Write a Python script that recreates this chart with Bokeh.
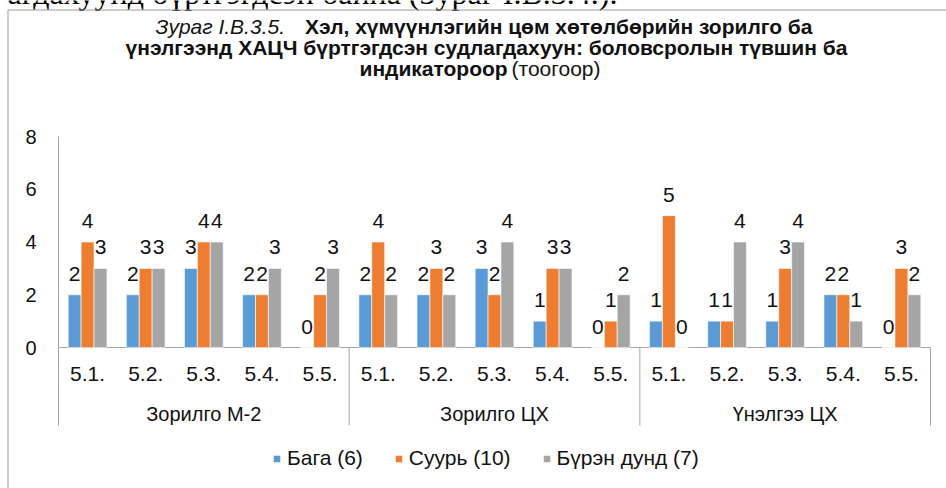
from bokeh.plotting import figure
from bokeh.models import Range1d, ColumnDataSource, Legend, LegendItem
from bokeh.embed import file_html
from bokeh.resources import INLINE
from bokeh.core.properties import value

# ---------------- data ----------------
groups = ["Зорилго М-2", "Зорилго ЦХ", "Үнэлгээ ЦХ"]
indicators = ["5.1.", "5.2.", "5.3.", "5.4.", "5.5."]
series_names = ["Бага (6)", "Суурь (10)", "Бүрэн дунд (7)"]
baga = [2, 2, 3, 2, 0, 2, 2, 3, 1, 0, 1, 1, 1, 2, 0]
suur = [4, 3, 4, 2, 2, 4, 3, 2, 3, 1, 5, 1, 3, 2, 3]
buren = [3, 3, 4, 3, 3, 2, 2, 4, 3, 2, 0, 4, 4, 1, 2]
y_ticks = [0, 2, 4, 6, 8]
page_text_above = "агдахуунд бүртгэгдсэн байна (Зураг I.B.3.4.)."
title_line1_italic = "Зураг I.B.3.5."
title_line1_bold = "Хэл, хүмүүнлэгийн цөм хөтөлбөрийн зорилго ба"
title_line2_bold = "үнэлгээнд ХАЦЧ бүртгэгдсэн судлагдахуун: боловсролын түвшин ба"
title_line3_bold = "индикатороор"
title_line3_normal = "(тоогоор)"

# ---------------- style ----------------
colors = ["#5B9BD5", "#ED7D31", "#A5A5A5"]
FONT = "Liberation Sans"
SERIF = "Liberation Serif"
TXT = "#111111"
AXIS = "#A6A6A6"
BORDER = "#9A9A9A"

n_cat = len(groups) * len(indicators)
W, H = 946, 488
ORIG_X, ORIG_Y = 0, 0           # page position of figure
X0_PAGE, AX_END_PAGE = 58, 930  # page x of category axis start / end
Y0_PAGE, Y8_PAGE = 347, 136     # page y of value 0 and value 8
UX = (AX_END_PAGE - X0_PAGE) / n_cat
UY = (Y0_PAGE - Y8_PAGE) / 8.0


def px(sx):
    return (sx - X0_PAGE) / UX


def py(sy):
    return (Y0_PAGE - sy) / UY


p = figure(width=W, height=H,
           x_range=Range1d(px(ORIG_X), px(ORIG_X + W)),
           y_range=Range1d(py(ORIG_Y + H), py(ORIG_Y)),
           output_backend="svg", toolbar_location=None,
           x_axis_type=None, y_axis_type=None)
p.min_border = 0
p.outline_line_color = None
p.background_fill_color = "white"
p.border_fill_color = "white"

# text of the surrounding document (cut off at the top, as in the source page)
p.text(x=[px(617)], y=[py(-8)], text=[page_text_above], text_align="right", text_baseline="middle",
       text_font=value(SERIF), text_font_size="32px", text_color="#000000")

# chart-area border (top and left)
p.segment(x0=[px(7.5), px(7.5)], y0=[py(9.5), py(9.5)], x1=[px(946), px(7.5)], y1=[py(9.5), py(488)],
          line_color=BORDER, line_width=1)

# value axis: line + tick labels
p.segment(x0=[0], y0=[min(y_ticks)], x1=[0], y1=[max(y_ticks)], line_color=AXIS, line_width=1)
p.text(x=[px(36)] * len(y_ticks), y=y_ticks, text=[str(t) for t in y_ticks],
       text_align="right", text_baseline="middle", text_font=value(FONT),
       text_font_size="20px", text_color=TXT)

# category axis line + group separators
p.segment(x0=[0], y0=[0], x1=[n_cat], y1=[0], line_color=AXIS, line_width=1)
bounds = [g * len(indicators) for g in range(len(groups) + 1)]
p.segment(x0=bounds, y0=[0] * len(bounds), x1=bounds, y1=[py(425)] * len(bounds),
          line_color=AXIS, line_width=1)

# bars + data labels
bw = 0.222
offsets = [-bw, 0.0, bw]
renderers = []
for vals, off, col in zip([baga, suur, buren], offsets, colors):
    xs = [i + 0.5 + off for i in range(n_cat)]
    src = ColumnDataSource(dict(x=xs, top=vals, lab=[str(v) for v in vals]))
    r = p.vbar(x="x", top="top", width=bw, source=src, fill_color=col,
               line_color="white", line_width=0.6)
    renderers.append(r)
    p.text(x="x", y="top", text="lab", source=src, text_align="center",
           text_baseline="middle", y_offset=-21, text_font=value(FONT),
           text_font_size="21px", text_color=TXT)

# category labels (two levels)
cat_x = [i + 0.5 for i in range(n_cat)]
cat_lab = indicators * len(groups)
p.text(x=cat_x, y=[py(373)] * n_cat, text=cat_lab, text_align="center",
       text_baseline="middle", text_font=value(FONT), text_font_size="21px", text_color=TXT)
grp_x = [g * len(indicators) + len(indicators) / 2 for g in range(len(groups))]
p.text(x=grp_x, y=[py(413)] * len(groups), text=groups, text_align="center",
       text_baseline="middle", text_font=value(FONT), text_font_size="20px", text_color=TXT)

# title
TS = "21px"
L1, L2, L3 = 26, 47, 68
p.text(x=[px(155)], y=[py(L1)], text=[title_line1_italic], text_align="left", text_baseline="middle",
       text_font=value(FONT), text_font_style="italic", text_font_size=TS, text_color=TXT)
p.text(x=[px(812)], y=[py(L1)], text=[title_line1_bold], text_align="right", text_baseline="middle",
       text_font=value(FONT), text_font_style="bold", text_font_size=TS, text_color=TXT)
p.text(x=[px(486)], y=[py(L2)], text=[title_line2_bold], text_align="center", text_baseline="middle",
       text_font=value(FONT), text_font_style="bold", text_font_size=TS, text_color=TXT)
p.text(x=[px(359)], y=[py(L3)], text=[title_line3_bold], text_align="left", text_baseline="middle",
       text_font=value(FONT), text_font_style="bold", text_font_size=TS, text_color=TXT)
p.text(x=[px(600)], y=[py(L3)], text=[title_line3_normal], text_align="right", text_baseline="middle",
       text_font=value(FONT), text_font_style="normal", text_font_size=TS, text_color=TXT)

# legend
legend = Legend(items=[LegendItem(label=nm, renderers=[r]) for nm, r in zip(series_names, renderers)],
                orientation="horizontal", location=(272 - ORIG_X, 18),
                glyph_width=9, glyph_height=9, label_standoff=6, spacing=31,
                padding=0, margin=0, border_line_color=None, background_fill_alpha=0,
                label_text_font=FONT, label_text_font_size="21px", label_text_color=TXT)
p.add_layout(legend)

open("out.html", "w").write(file_html(p, INLINE))
